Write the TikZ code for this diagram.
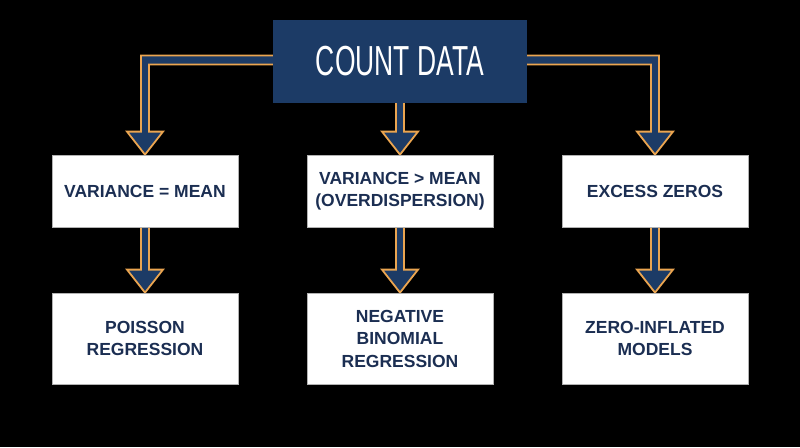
\documentclass[tikz,border=0pt]{standalone}
\usepackage{fontspec}
\setmainfont{Liberation Sans}
\usetikzlibrary{calc}
\definecolor{navy}{HTML}{1C3B66}
\definecolor{inknavy}{HTML}{1B2E52}
\definecolor{gold}{HTML}{EBA550}
\pgfdeclarelayer{back}
\pgfsetlayers{back,main}
% fat arrow straight down from one box to the next
\newcommand{\fatdown}[2]{%
  \draw[conn] ($(#1.south)+(-4,-2)$) -- ($(#2.north)+(-4,-23)$) -- ++(-14,0)
    -- (#2.north) -- ++(18,-23) -- ++(-14,0) -- ($(#1.south)+(4,-2)$) -- cycle;}

\begin{document}
\begin{tikzpicture}[x=1pt,y=-1pt,
    box/.style={draw=gray!60,line width=0.8pt,fill=white,minimum width=186pt,
      inner sep=0pt,align=center,text=inknavy,
      font=\fontsize{17.5}{22.5}\selectfont\bfseries},
    conn/.style={draw=gold,fill=navy,line width=1.8pt,line join=miter}]
  \begin{pgfonlayer}{back}
    \fill[black](0,0)rectangle(800,447);
  \end{pgfonlayer}

  \node[fill=navy,minimum width=254pt,minimum height=83pt,inner sep=0pt,
        text=white,font=\fontsize{42}{42}\selectfont](count)at(400,61.5)
        {\scalebox{0.63}[1]{COUNT DATA}};

  \node[box,minimum height=72pt](vareq)at(145,191){VARIANCE = MEAN};
  \node[box,minimum height=72pt](vargt)at(400,191){VARIANCE > MEAN\\(OVERDISPERSION)};
  \node[box,minimum height=72pt](zeros)at(655,191){EXCESS ZEROS};

  \node[box,minimum height=91pt](poisson)at(145,338.5){POISSON\\REGRESSION};
  \node[box,minimum height=91pt](negbin)at(400,338.5){NEGATIVE\\BINOMIAL\\REGRESSION};
  \node[box,minimum height=91pt](zinf)at(655,338.5){ZERO-INFLATED\\MODELS};

  \begin{pgfonlayer}{back}
    % elbow arrows out of the title
    \draw[conn]($(count.west)+(2,-6)$)-|($(vareq.north)+(-4,-23)$)--++(-14,0)
      --(vareq.north)--++(18,-23)--++(-14,0)|-($(count.west)+(2,3)$)--cycle;
    \draw[conn]($(count.east)+(-2,-6)$)-|($(zeros.north)+(4,-23)$)--++(14,0)
      --(zeros.north)--++(-18,-23)--++(14,0)|-($(count.east)+(-2,3)$)--cycle;
    \fatdown{count}{vargt}
    \fatdown{vareq}{poisson}
    \fatdown{vargt}{negbin}
    \fatdown{zeros}{zinf}
  \end{pgfonlayer}
\end{tikzpicture}
\end{document}
